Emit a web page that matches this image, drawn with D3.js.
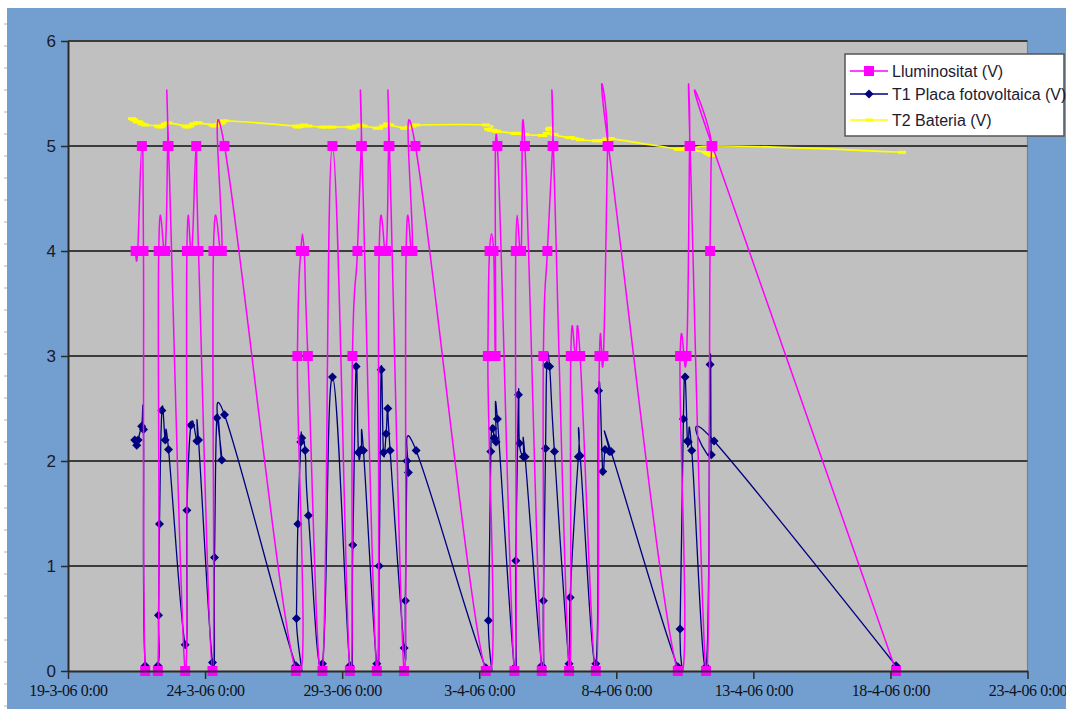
<!DOCTYPE html>
<html>
<head>
<meta charset="utf-8">
<script src="https://cdn.jsdelivr.net/npm/d3@7"></script>
<style>
  html, body { margin: 0; padding: 0; background: #ffffff; }
  svg { display: block; }
</style>
</head>
<body>
<svg id="chart" width="1066" height="709"></svg>
<script>
// ---- Data -------------------------------------------------------------
const seriesNames = ["Lluminositat (V)", "T1 Placa fotovoltaica (V)", "T2 Bateria (V)"];

const xTickLabels = ["19-3-06 0:00", "24-3-06 0:00", "29-3-06 0:00", "3-4-06 0:00",
                     "8-4-06 0:00", "13-4-06 0:00", "18-4-06 0:00", "23-4-06 0:00"];
const yTicks = [0, 1, 2, 3, 4, 5, 6];

// Lluminositat (V)
const lumTimes = [
  "21-3-06 11:15", "21-3-06 13:00", "21-3-06 16:40", "21-3-06 18:05", "21-3-06 19:35",
  "22-3-06 6:40", "22-3-06 7:25", "22-3-06 13:05", "22-3-06 15:15", "22-3-06 16:00",
  "23-3-06 6:35", "23-3-06 8:05", "23-3-06 12:25", "23-3-06 16:15", "23-3-06 18:15",
  "24-3-06 6:30", "24-3-06 7:20", "24-3-06 14:40", "24-3-06 17:00",
  "27-3-06 7:30", "27-3-06 8:50", "27-3-06 11:50", "27-3-06 14:45", "27-3-06 18:00",
  "28-3-06 6:45", "28-3-06 15:30",
  "29-3-06 6:45", "29-3-06 9:00", "29-3-06 13:25", "29-3-06 16:40", "29-3-06 17:15",
  "30-3-06 6:20", "30-3-06 8:25", "30-3-06 14:30", "30-3-06 16:40", "30-3-06 17:25",
  "31-3-06 6:15", "31-3-06 8:00", "31-3-06 13:30", "31-3-06 16:10",
  "3-4-06 5:45", "3-4-06 7:35", "3-4-06 9:05", "3-4-06 12:35", "3-4-06 14:20", "3-4-06 15:55",
  "4-4-06 6:50", "4-4-06 8:00", "4-4-06 12:40", "4-4-06 16:00",
  "5-4-06 6:45", "5-4-06 8:10", "5-4-06 11:40", "5-4-06 16:15", "5-4-06 16:55",
  "6-4-06 6:40", "6-4-06 8:10", "6-4-06 12:25", "6-4-06 16:20",
  "7-4-06 6:05", "7-4-06 9:15", "7-4-06 12:45", "7-4-06 16:25", "7-4-06 17:05",
  "10-4-06 5:50", "10-4-06 7:50", "10-4-06 13:30", "10-4-06 16:10", "10-4-06 16:35",
  "11-4-06 6:35", "11-4-06 10:05", "11-4-06 11:25", "11-4-06 12:05",
  "18-4-06 4:55"
];
const lumValues = [
  4, 4, 5, 4, 0,
  0, 4, 4, 5, 5,
  0, 4, 4, 5, 4,
  0, 4, 4, 5,
  0, 3, 4, 4, 3,
  0, 5,
  0, 3, 4, 5, 5,
  0, 4, 4, 5, 5,
  0, 4, 4, 5,
  0, 3, 4, 4, 3, 5,
  0, 4, 4, 5,
  0, 3, 4, 5, 5,
  0, 3, 3, 3,
  0, 3, 3, 5, 5,
  0, 3, 3, 5, 5,
  0, 4, 5, 5,
  0
];

// T1 Placa fotovoltaica (V)
const t1Times = [
  "21-3-06 10:25", "21-3-06 12:10", "21-3-06 13:25", "21-3-06 16:30", "21-3-06 18:05", "21-3-06 19:35",
  "22-3-06 6:40", "22-3-06 7:15", "22-3-06 8:05", "22-3-06 10:10", "22-3-06 13:05", "22-3-06 16:00",
  "23-3-06 6:35", "23-3-06 8:05", "23-3-06 11:35", "23-3-06 16:50", "23-3-06 18:15",
  "24-3-06 6:30", "24-3-06 8:15", "24-3-06 10:20", "24-3-06 14:40", "24-3-06 17:00",
  "27-3-06 7:30", "27-3-06 8:00", "27-3-06 9:15", "27-3-06 11:50", "27-3-06 12:35", "27-3-06 15:35", "27-3-06 18:30",
  "28-3-06 6:45", "28-3-06 15:30",
  "29-3-06 6:45", "29-3-06 9:20", "29-3-06 12:15", "29-3-06 14:15", "29-3-06 16:40", "29-3-06 18:40",
  "30-3-06 6:20", "30-3-06 8:25", "30-3-06 10:10", "30-3-06 12:10", "30-3-06 14:30", "30-3-06 16:00", "30-3-06 18:00",
  "31-3-06 6:15", "31-3-06 7:20", "31-3-06 8:40", "31-3-06 10:00", "31-3-06 16:45",
  "3-4-06 5:45", "3-4-06 8:05", "3-4-06 10:10", "3-4-06 11:55", "3-4-06 13:05", "3-4-06 14:45", "3-4-06 15:55",
  "4-4-06 6:50", "4-4-06 8:00", "4-4-06 10:20", "4-4-06 11:10", "4-4-06 14:40", "4-4-06 16:10",
  "5-4-06 6:45", "5-4-06 8:10", "5-4-06 10:05", "5-4-06 11:10", "5-4-06 13:35", "5-4-06 17:50",
  "6-4-06 6:40", "6-4-06 7:35", "6-4-06 14:50", "6-4-06 16:20",
  "7-4-06 6:05", "7-4-06 8:30", "7-4-06 12:10", "7-4-06 14:10", "7-4-06 18:00", "7-4-06 19:25",
  "10-4-06 5:50", "10-4-06 7:50", "10-4-06 10:45", "10-4-06 12:15", "10-4-06 14:15", "10-4-06 15:05", "10-4-06 18:05",
  "11-4-06 6:35", "11-4-06 10:05", "11-4-06 11:10", "11-4-06 13:35",
  "18-4-06 4:55"
];
const t1Values = [
  2.20, 2.15, 2.20, 2.33, 2.30, 0.05,
  0.05, 0.53, 1.40, 2.48, 2.20, 2.11,
  0.25, 1.53, 2.34, 2.19, 2.20,
  0.08, 1.08, 2.41, 2.01, 2.44,
  0.05, 0.50, 1.40, 2.18, 2.22, 2.10, 1.48,
  0.07, 2.80,
  0.05, 1.20, 2.90, 2.08, 2.11, 2.10,
  0.07, 1.00, 2.87, 2.08, 2.26, 2.50, 2.10,
  0.22, 0.67, 2.00, 1.89, 2.10,
  0.03, 0.48, 2.09, 2.31, 2.22, 2.18, 2.40,
  0.03, 1.05, 2.63, 2.17, 2.04, 2.04,
  0.05, 0.67, 2.12, 2.91, 2.90, 2.09,
  0.07, 0.70, 2.04, 2.05,
  0.07, 2.67, 1.90, 2.11, 2.09, 2.09,
  0.04, 0.40, 2.40, 2.80, 2.19, 2.18, 2.10,
  0.04, 2.92, 2.06, 2.19,
  0.05
];

// T2 Bateria (V)
const t2Times = [
  "21-3-06 7:55", "21-3-06 9:55", "21-3-06 12:10", "21-3-06 14:20", "21-3-06 16:30", "21-3-06 19:35",
  "22-3-06 6:40", "22-3-06 8:15", "22-3-06 10:25", "22-3-06 13:05", "22-3-06 16:00",
  "23-3-06 6:35", "23-3-06 8:20", "23-3-06 10:55", "23-3-06 13:35", "23-3-06 16:50", "23-3-06 18:15",
  "24-3-06 6:30", "24-3-06 8:15", "24-3-06 10:35", "24-3-06 12:20", "24-3-06 14:40", "24-3-06 17:00",
  "27-3-06 7:30", "27-3-06 9:05", "27-3-06 11:50", "27-3-06 14:45", "27-3-06 18:15",
  "28-3-06 6:45", "28-3-06 10:50", "28-3-06 15:30",
  "29-3-06 6:45", "29-3-06 9:10", "29-3-06 12:15", "29-3-06 15:45", "29-3-06 18:40",
  "30-3-06 6:20", "30-3-06 8:25", "30-3-06 11:55", "30-3-06 15:25", "30-3-06 18:00",
  "31-3-06 6:15", "31-3-06 8:00", "31-3-06 10:40", "31-3-06 13:30", "31-3-06 16:45",
  "3-4-06 5:45", "3-4-06 7:50", "3-4-06 10:00", "3-4-06 12:10", "3-4-06 14:45", "3-4-06 15:55",
  "4-4-06 6:50", "4-4-06 8:20", "4-4-06 10:55", "4-4-06 12:40", "4-4-06 16:10",
  "5-4-06 6:45", "5-4-06 8:10", "5-4-06 11:10", "5-4-06 13:10", "5-4-06 14:05", "5-4-06 17:50",
  "6-4-06 6:40", "6-4-06 8:25", "6-4-06 11:55", "6-4-06 16:20",
  "7-4-06 6:05", "7-4-06 8:55", "7-4-06 12:45", "7-4-06 15:05", "7-4-06 17:05", "7-4-06 19:25",
  "10-4-06 5:50", "10-4-06 7:50", "10-4-06 11:20", "10-4-06 14:00", "10-4-06 18:05",
  "11-4-06 6:35", "11-4-06 8:20", "11-4-06 10:05", "11-4-06 11:25", "11-4-06 12:45",
  "18-4-06 10:10"
];
const t2Values = [
  5.26, 5.25, 5.23, 5.23, 5.21, 5.20,
  5.19, 5.18, 5.19, 5.21, 5.22,
  5.19, 5.18, 5.19, 5.21, 5.22, 5.22,
  5.20, 5.19, 5.20, 5.21, 5.22, 5.24,
  5.19, 5.18, 5.19, 5.20, 5.19,
  5.18, 5.18, 5.18,
  5.18, 5.17, 5.19, 5.20, 5.19,
  5.17, 5.17, 5.19, 5.21, 5.20,
  5.17, 5.17, 5.18, 5.19, 5.20,
  5.20, 5.16, 5.15, 5.15, 5.14, 5.14,
  5.12, 5.12, 5.12, 5.12, 5.11,
  5.10, 5.10, 5.12, 5.16, 5.17, 5.11,
  5.08, 5.08, 5.07, 5.06,
  5.05, 5.05, 5.05, 5.06, 5.06, 5.07,
  4.97, 4.97, 4.97, 4.98, 4.96,
  4.94, 4.93, 4.92, 4.91, 5.00,
  4.94
];

// ---- Layout -----------------------------------------------------------
const W = 1066, H = 709;
const plot = { left: 68, right: 1027.5, top: 41, bottom: 671 };

const parseT = d3.utcParse("%d-%m-%y %H:%M");
const fmtT = d3.utcFormat("%-d-%-m-%y %-H:%M");

const xTicks = xTickLabels.map(parseT);
const x = d3.scaleUtc()
  .domain([xTicks[0], xTicks[xTicks.length - 1]])
  .range([plot.left, plot.right]);
const y = d3.scaleLinear().domain([0, 6]).range([plot.bottom, plot.top]);

const zip = (ts, vs) => ts.map((t, i) => ({ t: parseT(t), v: vs[i] }));
const lumData = zip(lumTimes, lumValues);
const t1Data = zip(t1Times, t1Values);
const t2Data = zip(t2Times, t2Values);

const svg = d3.select("#chart");

// window / chart area background
svg.append("rect").attr("width", W).attr("height", H).attr("fill", "#ffffff");
svg.append("rect").attr("x", 7).attr("y", 8).attr("width", W - 7).attr("height", H - 8)
  .attr("fill", "#729fcf");
svg.append("g").selectAll("line")
  .data(d3.range(24, H, 22))
  .join("line")
  .attr("x1", 4).attr("x2", 7).attr("y1", d => d).attr("y2", d => d)
  .attr("stroke", "#b4b4b4").attr("stroke-width", 1);

// plot area
svg.append("rect")
  .attr("x", plot.left).attr("y", plot.top)
  .attr("width", plot.right - plot.left).attr("height", plot.bottom - plot.top)
  .attr("fill", "#c0c0c0");
svg.append("line")
  .attr("x1", plot.right).attr("x2", plot.right)
  .attr("y1", plot.top).attr("y2", plot.bottom)
  .attr("stroke", "#808080").attr("stroke-width", 1.2);

// horizontal gridlines
svg.append("g").selectAll("line")
  .data(yTicks.filter(d => d > 0))
  .join("line")
  .attr("x1", plot.left).attr("x2", plot.right)
  .attr("y1", d => y(d)).attr("y2", d => y(d))
  .attr("stroke", "#3c3c3c").attr("stroke-width", 2);

// clip for the series lines
svg.append("defs").append("clipPath").attr("id", "plotClip")
  .append("rect")
  .attr("x", plot.left).attr("y", plot.top)
  .attr("width", plot.right - plot.left).attr("height", plot.bottom - plot.top);

// smoothed connecting line, slightly looser than plain Catmull-Rom
const line = d3.line()
  .x(d => x(d.t))
  .y(d => y(d.v))
  .curve(d3.curveCardinal.tension(-0.3));

const series = [
  { name: seriesNames[2], data: t2Data, color: "#ffff00", width: 1.6, marker: "dash" },
  { name: seriesNames[1], data: t1Data, color: "#000080", width: 1.3, marker: "diamond" },
  { name: seriesNames[0], data: lumData, color: "#ff00ff", width: 1.5, marker: "square" }
];

function drawMarker(sel, type, color) {
  if (type === "square") {
    sel.append("rect").attr("x", -5).attr("y", -5).attr("width", 10).attr("height", 10)
      .attr("fill", color);
  } else if (type === "diamond") {
    sel.append("path").attr("d", "M0,-4.5L4.5,0L0,4.5L-4.5,0Z").attr("fill", color);
  } else {
    sel.append("rect").attr("x", -4).attr("y", -1.5).attr("width", 8).attr("height", 3)
      .attr("fill", color);
  }
}

series.forEach(s => {
  const g = svg.append("g");
  g.append("path")
    .attr("clip-path", "url(#plotClip)")
    .attr("d", line(s.data))
    .attr("fill", "none")
    .attr("stroke", s.color)
    .attr("stroke-width", s.width)
    .attr("stroke-linejoin", "round");
  g.selectAll("g.pt")
    .data(s.data)
    .join("g")
    .attr("class", "pt")
    .attr("transform", d => `translate(${x(d.t)},${y(d.v)})`)
    .each(function () { drawMarker(d3.select(this), s.marker, s.color); });
});

// ---- Axes -------------------------------------------------------------
const yAxis = d3.axisLeft(y)
  .tickValues(yTicks)
  .tickSize(7).tickSizeOuter(0).tickPadding(5)
  .tickFormat(d3.format("d"));
const gy = svg.append("g").attr("transform", `translate(${plot.left},0)`).call(yAxis);
gy.select(".domain").attr("stroke", "#2a2a2a").attr("stroke-width", 2);
gy.selectAll(".tick line").attr("stroke", "#2a2a2a").attr("stroke-width", 1.5);
gy.selectAll(".tick text")
  .attr("font-family", "'Liberation Sans', Arial, sans-serif")
  .attr("font-size", 17).attr("fill", "#1a1a2a");

const xAxis = d3.axisBottom(x)
  .tickValues(xTicks)
  .tickSize(8).tickSizeOuter(0).tickPadding(6)
  .tickFormat(fmtT);
const gx = svg.append("g").attr("transform", `translate(0,${plot.bottom})`).call(xAxis);
gx.select(".domain").attr("stroke", "#2a2a2a").attr("stroke-width", 2);
gx.selectAll(".tick line").attr("stroke", "#2a2a2a").attr("stroke-width", 1.5);
gx.selectAll(".tick text")
  .attr("font-family", "'Liberation Serif', 'Times New Roman', serif")
  .attr("font-size", 16).attr("letter-spacing", "-0.4px").attr("fill", "#111118");

// ---- Legend -----------------------------------------------------------
const legend = svg.append("g").attr("transform", "translate(845,54)");
legend.append("rect")
  .attr("width", 219).attr("height", 82)
  .attr("fill", "#ffffff").attr("stroke", "#555555").attr("stroke-width", 1.5);

const legendItems = [series[2], series[1], series[0]];
const rowY = [17, 40, 66];
legendItems.forEach((s, i) => {
  const row = legend.append("g").attr("transform", `translate(0,${rowY[i]})`);
  row.append("line").attr("x1", 5).attr("x2", 43).attr("y1", 0).attr("y2", 0)
    .attr("stroke", s.color).attr("stroke-width", 1.6);
  const m = row.append("g").attr("transform", "translate(24,0)");
  drawMarker(m, s.marker, s.color);
  row.append("text")
    .attr("x", 47).attr("y", 0).attr("dy", "0.36em")
    .attr("font-family", "'Liberation Sans', Arial, sans-serif")
    .attr("font-size", 16).attr("fill", "#1e1a30")
    .text(s.name);
});
</script>
</body>
</html>
